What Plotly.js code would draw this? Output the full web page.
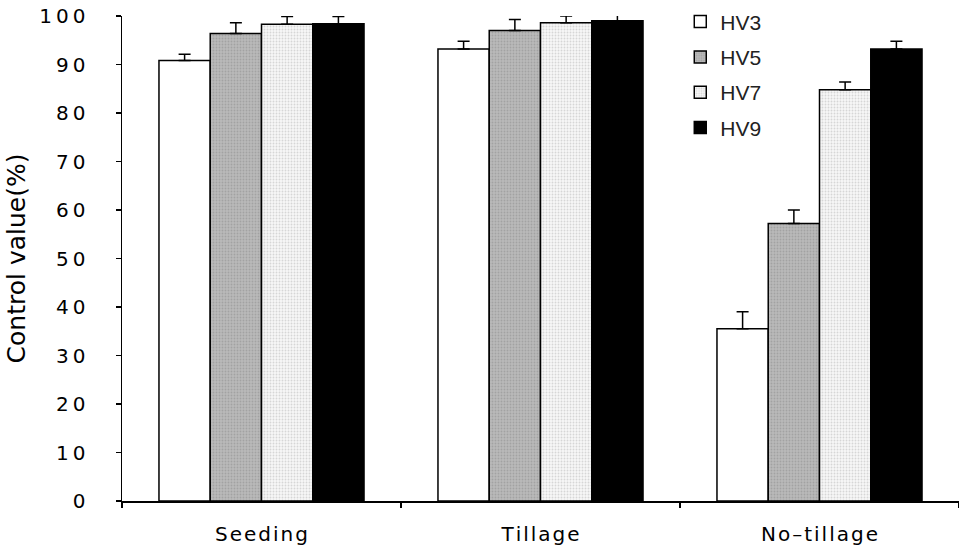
<!DOCTYPE html>
<html>
<head>
<meta charset="utf-8">
<script src="https://cdn.plot.ly/plotly-3.0.1.min.js"></script>
<style>html,body{margin:0;padding:0;background:#fff;}</style>
</head>
<body>
<div id="chart" style="width:959px;height:547px;"></div>
<script>
const categories = ["Seeding", "Tillage", "No-tillage"];
const categoryLabels = ["S\u200Ae\u200Ae\u200Ad\u200Ai\u200An\u200Ag", "T\u200Ai\u200Al\u200Al\u200Aa\u200Ag\u200Ae", "N\u200Ao\u200A\u2013\u200At\u200Ai\u200Al\u200Al\u200Aa\u200Ag\u200Ae"];
const seriesNames = ["HV3", "HV5", "HV7", "HV9"];
const hv3 = [90.8, 93.2, 35.5];
const hv5 = [96.4, 97.0, 57.2];
const hv7 = [98.3, 98.6, 84.8];
const hv9 = [98.4, 99.0, 93.2];
const hv3Err = [1.3, 1.6, 3.5];
const hv5Err = [2.2, 2.3, 2.8];
const hv7Err = [1.6, 1.4, 1.6];
const hv9Err = [1.5, 1.4, 1.6];
const yTickVals = [0, 10, 20, 30, 40, 50, 60, 70, 80, 90, 100];
const yTickText = ["0", "1\u20090", "2\u20090", "3\u20090", "4\u20090", "5\u20090", "6\u20090", "7\u20090", "8\u20090", "9\u20090", "1\u20090\u20090"];
const yTitle = "Control value(%)\u00A0\u00A0\u00A0";

const styles = [
  {bg: "#ffffff", fg: "#ffffff", shape: ""},
  {bg: "#bababa", fg: "#a2a2a2", shape: "."},
  {bg: "#f7f7f7", fg: "#d6d6d6", shape: "."},
  {bg: "#000000", fg: "#000000", shape: ""}
];
const values = [hv3, hv5, hv7, hv9];
const errs = [hv3Err, hv5Err, hv7Err, hv9Err];

const traces = seriesNames.map((name, i) => ({
  type: "bar",
  name: name,
  legendgroup: name,
  x: categories,
  y: values[i],
  marker: {
    color: styles[i].bg,
    line: {color: "#000", width: 1.5},
    pattern: {shape: styles[i].shape, bgcolor: styles[i].bg, fgcolor: styles[i].fg, size: 3, solidity: 0.3}
  },
  error_y: {
    type: "data", symmetric: false, array: errs[i], arrayminus: errs[i].map(() => 0),
    color: "#000", thickness: 1.5, width: 6
  },
  hoverinfo: "skip"
}));

const layout = {
  width: 959, height: 547,
  margin: {l: 122, r: 0, t: 16, b: 46},
  paper_bgcolor: "#fff", plot_bgcolor: "#fff",
  barmode: "group", bargap: 0.265, bargroupgap: 0,
  showlegend: true,
  legend: {
    x: 0.667, y: 1.03, xanchor: "left", yanchor: "top",
    font: {family: "Liberation Sans, Arial, sans-serif", size: 21, color: "#222"},
    tracegroupgap: 5, itemwidth: 30, bgcolor: "rgba(0,0,0,0)", traceorder: "grouped"
  },
  xaxis: {
    type: "category",
    tickvals: categories, ticktext: categoryLabels,
    showline: true, linecolor: "#000", linewidth: 1.5,
    ticks: "outside", tickson: "boundaries", ticklen: 5, tickcolor: "#000", tickwidth: 1.2,
    ticklabelstandoff: 14,
    tickfont: {family: "DejaVu Sans, sans-serif", size: 20, color: "#000"},
    showgrid: false, zeroline: false
  },
  yaxis: {
    range: [0, 100],
    tickvals: yTickVals, ticktext: yTickText,
    showline: true, linecolor: "#000", linewidth: 1.5,
    ticks: "outside", ticklen: 5, tickcolor: "#000", tickwidth: 1.2,
    ticklabelstandoff: 26,
    tickfont: {family: "DejaVu Sans, sans-serif", size: 20, color: "#000"},
    showgrid: false, zeroline: false,
    title: {text: yTitle, font: {family: "DejaVu Sans, sans-serif", size: 25, color: "#000"}, standoff: 6}
  }
};

Plotly.newPlot("chart", traces, layout, {displayModeBar: false, staticPlot: true});
</script>
</body>
</html>
